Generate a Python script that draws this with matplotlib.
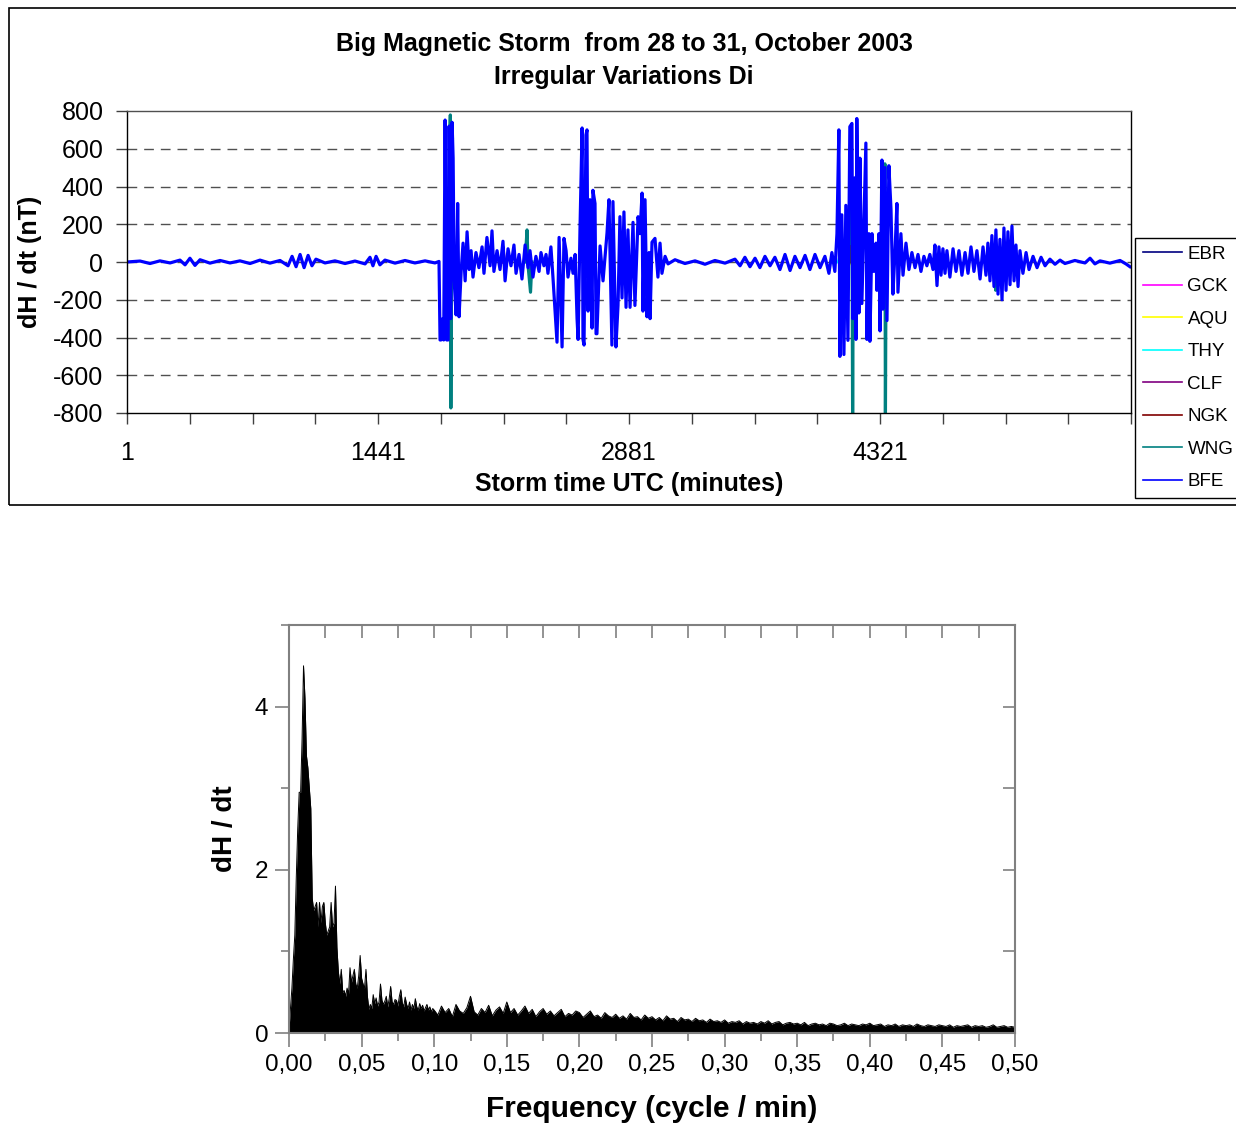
import numpy as np
import matplotlib
matplotlib.use("Agg")
import matplotlib.pyplot as plt
from matplotlib.patches import Rectangle
from matplotlib.ticker import FuncFormatter, MultipleLocator

plt.rcParams['font.family'] = ['Liberation Sans', 'DejaVu Sans']
plt.rcParams['axes.unicode_minus'] = False

# ---- top panel: dH/dt per station (storm time in minutes, nT) ----
bfe_t = [1, 76, 133, 190, 248, 305, 334, 362, 391, 420, 477, 535, 592, 649, 707, 764, 821, 879,
         925, 948, 971, 994, 1017, 1040, 1062, 1085, 1137, 1194, 1252, 1309, 1367, 1395, 1412, 1430,
         1452, 1481, 1539, 1596, 1653, 1711, 1768, 1791,
         1797, 1803, 1812, 1818, 1826, 1835, 1843, 1849, 1858, 1866, 1872, 1878, 1889, 1898, 1906,
         1918, 1929, 1941, 1952, 1964, 1975, 1986, 2003, 2020, 2038, 2049, 2066, 2084, 2095, 2106,
         2124, 2141, 2158, 2170, 2187, 2204, 2221, 2233, 2250, 2267, 2285, 2302, 2313, 2330, 2347,
         2365, 2376, 2393, 2405, 2416, 2433, 2445,
         2468, 2480, 2497, 2508, 2520, 2531, 2548, 2560, 2572, 2583, 2589, 2600, 2612, 2617, 2623,
         2634, 2640, 2646, 2657, 2669, 2674, 2686, 2692, 2697, 2715, 2732, 2755, 2766, 2783, 2789,
         2806, 2818, 2829, 2841, 2852, 2864, 2875, 2887, 2904, 2915, 2933, 2944, 2956, 2961, 2973,
         2984, 2996, 3002, 3013, 3030, 3047, 3059, 3070, 3088,
         3105, 3145, 3202, 3260, 3317, 3374, 3432, 3489, 3518, 3546, 3575, 3604, 3632, 3661, 3690,
         3718, 3747, 3776, 3805, 3833, 3862, 3891, 3919, 3948, 3977, 4005, 4028, 4045, 4062,
         4074, 4085, 4091, 4102, 4114, 4125, 4137, 4148, 4160, 4165, 4177, 4183, 4188, 4200, 4206,
         4217, 4229, 4240, 4246, 4257, 4263, 4275, 4286, 4298, 4303, 4315, 4321, 4332, 4338, 4350,
         4361, 4372, 4384, 4395, 4407, 4418, 4424, 4441, 4453, 4470, 4487, 4504, 4522, 4539, 4556,
         4573, 4590, 4607, 4625, 4636, 4648, 4659, 4671, 4682, 4694, 4705, 4722, 4740, 4757, 4774,
         4791, 4809, 4826, 4843, 4860, 4877, 4895, 4912, 4929, 4940, 4952, 4963, 4975, 4986, 4998,
         5009, 5021, 5032, 5044, 5055, 5067, 5078, 5090, 5101, 5113, 5124, 5141, 5159, 5176, 5199,
         5222, 5245, 5268, 5296, 5325, 5354, 5382, 5439, 5497, 5526, 5554, 5583, 5640, 5698, 5732, 5755]
bfe_v = [0, 5, -8, 6, -5, 10, -15, 20, -18, 12, -6, 8, -5, 6, -8, 10, -6, 8,
         -20, 30, -25, 40, -30, 35, -20, 15, -5, 6, -8, 5, -10, 25, -20, 30,
         -15, 10, -6, 8, -5, 6, -5, 3,
         -413, -413, -300, -413, 752, -413, -413, 720, -300, 740, 550, -100, -280, 310, -290,
         -50, 100, -100, 160, -40, 60, -80, 50, -30, 80, -60, 130, -20, 165, -50,
         60, -40, 110, -100, 70, -20, 90, -60, 40, -90, 90, -30, 60, -80, 30,
         -50, 50, -20, 40, -60, 80, -85,
         -425, 130, -450, 125, 60, -80, 20, -60, 40, -300, -410, 180, 710, -410, -440,
         673, 700, -260, 330, -350, 380, 310, -380, -380, 85, -100, 155, 330, -440, 320,
         -450, -230, 240, -190, 265, -240, 170, -240, 210, -230, 240, 150, 365, -260, 330,
         -290, 50, -300, 105, 125, -80, 100, -60, 30,
         -10, 12, -8, 6, -12, 8, -6, 15, -20, 25, -25, 20, -30, 30, -20,
         25, -40, 40, -45, 30, -30, 35, -40, 40, -30, 30, -60, 50, -50,
         150, 700, -500, 250, -490, 300, -415, 717, 734, -300, 446, -410, 760, -270, 550,
         -220, 215, 630, -410, 150, -420, 150, -50, 100, -150, 150, -365, 540, -250, 500,
         -310, 510, 280, -170, 50, 310, -160, 150, -70, 100, -40, 50, -30, 40, -50,
         30, -20, 40, -40, 90, -125, 80, -70, 70, -60, 60, -80, 70, -50, 60,
         -70, 50, -60, 80, -50, 60, -90, 80, -70, 100, -100, 140, -130, 170, -170,
         120, -200, 180, -150, 160, -120, 190, -100, 90, -130, 60, -60, 50, -40, 30,
         -30, 25, -20, 15, -12, 10, -8, 8, -5, 20, -10, 6, -6, 8, -10, -25]

nan = np.nan
wng_t = [1840, 1846, 1852, 1856, 1859, 1863, 1868, nan,
         2285, 2296, 2302, 2316, 2324, nan,
         4155, 4160, 4164, 4168, nan,
         4341, 4345, 4349, 4352, 4356, nan,
         4975, 4985, 4995]
wng_v = [-100, 300, 600, 779, -773, 200, 650, nan,
         0, 170, -20, -160, 0, nan,
         100, 300, -850, 100, nan,
         -100, 300, 520, -850, 100, nan,
         -40, -150, 60]
ngk_t = [2636, 2646, 2652, nan, 4155, 4161, 4166]
ngk_v = [0, 155, 0, nan, 0, 445, 0]
clf_t = [2150, 2158, 2166, nan, 4640, 4648, 4656]
clf_v = [0, 80, 0, nan, 0, -60, 0]
thy_t = [4060, 4066, 4072]
thy_v = [0, 20, 0]
aqu_t = [1880, 1886, 1892, nan, 4150, 4156, 4162]
aqu_v = [0, -50, 0, nan, 0, -10, 0]
gck_t = [4118, 4124, 4130]
gck_v = [0, -40, 0]
ebr_t = [4140, 4146, 4152]
ebr_v = [0, 80, 0]

stations = ['EBR', 'GCK', 'AQU', 'THY', 'CLF', 'NGK', 'WNG', 'BFE']
colors = ['#000080', '#FF00FF', '#FFFF00', '#00FFFF', '#800080', '#800000', '#008080', '#0000FF']
series_t = [ebr_t, gck_t, aqu_t, thy_t, clf_t, ngk_t, wng_t, bfe_t]
series_v = [ebr_v, gck_v, aqu_v, thy_v, clf_v, ngk_v, wng_v, bfe_v]

# ---- bottom panel: amplitude spectrum ----
spec_lo = [0.05, 0.3, 0.55, 0.9, 1.2, 1.9, 2.5, 2.95, 2.95, 3.6,
           4.5, 4.1, 3.4, 3.25, 3.0, 2.75, 1.65, 1.5, 1.55, 1.6,
           1.3, 1.6, 1.35, 1.55, 1.6, 1.35, 1.2, 1.25, 1.3, 1.6,
           1.3, 1.35, 1.8, 1.05, 0.75, 0.6, 0.78, 0.5, 0.52, 0.45,
           0.55, 0.48, 0.8, 0.62, 0.7, 0.78, 0.6, 0.55, 0.7, 0.95,
           0.67, 0.6, 0.55, 0.78, 0.45, 0.29, 0.35, 0.3, 0.47, 0.36,
           0.43, 0.33, 0.38, 0.6, 0.4, 0.35, 0.39, 0.45, 0.32, 0.42,
           0.57, 0.38, 0.35, 0.41, 0.4, 0.33, 0.45, 0.53, 0.37, 0.32,
           0.44, 0.35, 0.3, 0.38, 0.28, 0.35, 0.3, 0.42, 0.32, 0.28,
           0.36, 0.3, 0.34, 0.27, 0.31, 0.35, 0.28, 0.32, 0.26, 0.3]
spec_hi = [0.28, 0.22, 0.33, 0.25, 0.3, 0.2, 0.35, 0.27, 0.24, 0.31,
           0.45, 0.26, 0.22, 0.3, 0.25, 0.34, 0.21, 0.28, 0.32, 0.24,
           0.38, 0.25, 0.3, 0.22, 0.27, 0.33, 0.24, 0.29, 0.2, 0.26,
           0.3, 0.23, 0.27, 0.21, 0.25, 0.29, 0.2, 0.24, 0.22, 0.27,
           0.25, 0.19, 0.23, 0.27, 0.2, 0.22, 0.18, 0.25, 0.21, 0.19,
           0.23, 0.18, 0.21, 0.17, 0.24, 0.19, 0.2, 0.16, 0.22, 0.18,
           0.2, 0.16, 0.19, 0.15, 0.21, 0.17, 0.18, 0.14, 0.19, 0.16,
           0.17, 0.14, 0.18, 0.15, 0.16, 0.13, 0.17, 0.14, 0.15, 0.13,
           0.16, 0.12, 0.14, 0.13, 0.15, 0.11, 0.14, 0.12, 0.13, 0.11,
           0.14, 0.12, 0.15, 0.11, 0.13, 0.14, 0.1, 0.12, 0.13, 0.11,
           0.12, 0.1, 0.13, 0.09, 0.11, 0.12, 0.1, 0.11, 0.09, 0.12,
           0.11, 0.09, 0.1, 0.12, 0.09, 0.11, 0.1, 0.09, 0.11, 0.1,
           0.12, 0.09, 0.1, 0.11, 0.08, 0.1, 0.09, 0.11, 0.08, 0.1,
           0.09, 0.1, 0.08, 0.11, 0.09, 0.08, 0.1, 0.09, 0.08, 0.1,
           0.09, 0.08, 0.1, 0.07, 0.09, 0.08, 0.09, 0.1, 0.07, 0.09,
           0.08, 0.09, 0.07, 0.08, 0.1, 0.07, 0.08, 0.09, 0.07, 0.08,
           0.07]
freq_lo = np.arange(len(spec_lo)) * 0.001
freq_hi = 0.1 + np.arange(len(spec_hi)) * 0.0025

W, H = 1236, 1126
fig = plt.figure(figsize=(W / 100, H / 100), dpi=100)

# frame around the top chart
fig.add_artist(Rectangle((9 / W, 1 - 505 / H), 1.2, (505 - 8) / H, transform=fig.transFigure,
                         fill=False, edgecolor='black', lw=1.2))

ax = fig.add_axes([127 / W, 1 - 413 / H, 1004 / W, 302 / H])
handles = []
for name, c, t, v in zip(stations, colors, series_t, series_v):
    ln, = ax.plot(t, v, color=c, lw=2.3, label=name)
    handles.append(ln)
ax.set_xlim(1, 5761)
ax.set_ylim(-800, 800)
ax.set_yticks(np.arange(-800, 801, 200))
xt = np.arange(1, 5762, 360)
ax.set_xticks(xt)
ax.set_xticklabels([str(v) if (i % 4 == 0 and v < 5761) else '' for i, v in enumerate(xt)])
ax.tick_params(axis='both', direction='out', length=8, width=1, color='#404040', labelsize=18)
ax.tick_params(axis='x', pad=12)
ax.tick_params(axis='y', pad=9)
for y in range(-600, 601, 200):
    ax.axhline(y, color='#505050', lw=1, ls=(0, (7, 5)), zorder=0)
for s in ax.spines.values():
    s.set_color('black')
    s.set_linewidth(1)
ax.spines['top'].set_color('#505050')
ax.set_ylabel('dH / dt (nT)', fontsize=18, fontweight='bold', labelpad=8)
ax.set_xlabel('Storm time UTC (minutes)', fontsize=18, fontweight='bold', labelpad=5)

fig.text(624 / W, 1 - 44 / H, 'Big Magnetic Storm  from 28 to 31, October 2003',
         ha='center', va='center', fontsize=18, fontweight='bold')
fig.text(624 / W, 1 - 77 / H, 'Irregular Variations Di',
         ha='center', va='center', fontsize=18, fontweight='bold')

leg = fig.legend(handles, stations, loc='upper left', bbox_to_anchor=(1135 / W, 1 - 238 / H),
                 frameon=True, fancybox=False, edgecolor='black', framealpha=1, fontsize=13.5,
                 handlelength=2.1, handletextpad=0.3, borderpad=0.4, borderaxespad=0,
                 labelspacing=0.82)
leg.get_frame().set_linewidth(1)
for h in leg.legend_handles:
    h.set_linewidth(1.2)

# ---- bottom panel ----
ax2 = fig.add_axes([289 / W, 1 - 1033 / H, 726 / W, 408 / H])
freq = np.concatenate([freq_lo, freq_hi])
amp = np.concatenate([spec_lo, spec_hi])
ax2.fill_between(freq, 0, amp, color='black', lw=0)
ax2.plot(freq, amp, color='black', lw=0.7)
ax2.set_xlim(0, 0.5)
ax2.set_ylim(0, 5)
ax2.xaxis.set_major_locator(MultipleLocator(0.05))
ax2.xaxis.set_minor_locator(MultipleLocator(0.025))
ax2.yaxis.set_major_locator(MultipleLocator(2))
ax2.yaxis.set_minor_locator(MultipleLocator(1))
ax2.xaxis.set_major_formatter(FuncFormatter(lambda v, p: f"{v:.2f}".replace('.', ',')))
ax2.yaxis.set_major_formatter(FuncFormatter(lambda v, p: f"{v:.0f}"))
grey = '#808080'
ax2.tick_params(axis='both', which='major', direction='out', length=10, width=1.2, color=grey,
                labelsize=17.5, pad=5)
ax2.tick_params(axis='both', which='minor', direction='out', length=6, width=1.2, color=grey)
for s in ax2.spines.values():
    s.set_color(grey)
    s.set_linewidth(1.5)
top = ax2.secondary_xaxis('top')
top.xaxis.set_major_locator(MultipleLocator(0.025))
top.tick_params(direction='in', length=9, width=1.2, color=grey, labeltop=False)
top.spines['top'].set_visible(False)
right = ax2.secondary_yaxis('right')
right.yaxis.set_major_locator(MultipleLocator(1))
right.tick_params(direction='in', length=9, width=1.2, color=grey, labelright=False)
right.spines['right'].set_visible(False)
ax2.set_xlabel('Frequency (cycle / min)', fontsize=21.5, fontweight='bold', labelpad=14)
ax2.set_ylabel('dH / dt', fontsize=20, fontweight='bold', labelpad=12)

fig.savefig('out.png', dpi=100)
